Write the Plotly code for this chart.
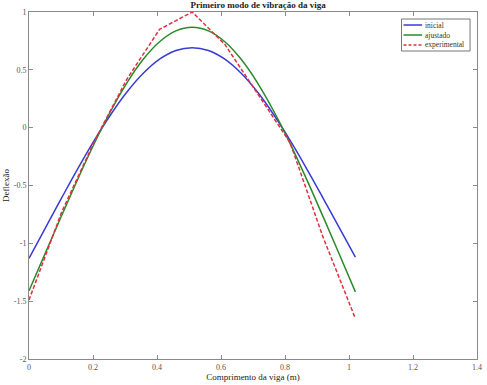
import plotly.graph_objects as go

# ---- data ----
x_model = [0.0, 0.051, 0.102, 0.153, 0.204, 0.255, 0.306, 0.357, 0.408, 0.459, 0.51,
           0.561, 0.612, 0.663, 0.714, 0.765, 0.816, 0.867, 0.918, 0.969, 1.02]
y_inicial = [-1.13, -0.868, -0.607, -0.352, -0.110, 0.112, 0.308, 0.470, 0.592, 0.667, 0.692,
             0.667, 0.592, 0.470, 0.308, 0.112, -0.110, -0.351, -0.604, -0.862, -1.12]
y_ajustado = [-1.41, -1.085, -0.760, -0.441, -0.137, 0.142, 0.388, 0.591, 0.743, 0.837, 0.868,
              0.837, 0.743, 0.591, 0.388, 0.142, -0.138, -0.443, -0.763, -1.090, -1.42]

x_exp = [0.0, 0.102, 0.204, 0.306, 0.408, 0.51, 0.612, 0.714, 0.816, 0.918, 1.02]
y_exp = [-1.49, -0.73, -0.12, 0.42, 0.85, 1.0, 0.72, 0.30, -0.13, -0.94, -1.65]

series_names = ["inicial", "ajustado", "experimental"]
series_colors = ["#3a3ad8", "#2a8a2a", "#e03040"]
series_dash = ["solid", "solid", "4px,2px"]

x_ticks = [0, 0.2, 0.4, 0.6, 0.8, 1.0, 1.2, 1.4]
x_ticklabels = ["0", "0.2", "0.4", "0.6", "0.8", "1", "1.2", "1.4"]
y_ticks = [-2, -1.5, -1, -0.5, 0, 0.5, 1]
y_ticklabels = ["-2", "-1.5", "-1", "-0.5", "0", "0.5", "1"]

title = "Primeiro modo de vibração da viga"
x_title = "Comprimento da viga (m)"
y_title = "Deflexão"

FONT = "Liberation Serif"

fig = go.Figure()
xs = [x_model, x_model, x_exp]
ys = [y_inicial, y_ajustado, y_exp]
shapes_kind = ["spline", "spline", "linear"]
for name, col, dash, xv, yv, sh in zip(series_names, series_colors, series_dash, xs, ys, shapes_kind):
    fig.add_trace(go.Scatter(x=xv, y=yv, mode="lines", name=name,
                             line=dict(color=col, width=1.5, dash=dash, shape=sh)))

axis_common = dict(showline=True, mirror="ticks", linecolor="#8a8a8a", linewidth=1,
                   ticks="inside", ticklen=4, tickcolor="#8a8a8a", showgrid=False,
                   zeroline=False, tickfont=dict(family=FONT, size=8, color="#555"))

fig.update_xaxes(range=[0, 1.4], tickvals=x_ticks, ticktext=x_ticklabels,
                 title=dict(text=x_title, font=dict(family=FONT, size=9, color="#222"), standoff=2),
                 **axis_common)
fig.update_yaxes(range=[-2, 1], tickvals=y_ticks, ticktext=y_ticklabels,
                 title=dict(text=y_title, font=dict(family=FONT, size=9, color="#222"), standoff=2),
                 **axis_common)

# compact MATLAB-style legend drawn in paper coordinates
box = dict(x0=0.8315, x1=0.9845, y0=0.8876, y1=0.9798)
row_y = [0.9625, 0.9337, 0.9049]
line_x0, line_x1, text_x = 0.8359, 0.8775, 0.8800
shapes = [dict(type="rect", xref="paper", yref="paper", fillcolor="white",
               line=dict(color="#777", width=1), **box)]
annotations = []
for name, col, dash, ry in zip(series_names, series_colors, series_dash, row_y):
    shapes.append(dict(type="line", xref="paper", yref="paper", x0=line_x0, x1=line_x1,
                       y0=ry, y1=ry, line=dict(color=col, width=1.5,
                                               dash="3px,2px" if dash != "solid" else "solid")))
    annotations.append(dict(xref="paper", yref="paper", x=text_x, y=ry, text=name,
                            showarrow=False, xanchor="left", yanchor="middle",
                            font=dict(family=FONT, size=7.5, color="#333")))

fig.update_layout(
    width=487, height=385,
    margin=dict(l=25, r=5, t=12, b=26),
    paper_bgcolor="white", plot_bgcolor="white",
    title=dict(text="<b>" + title + "</b>", font=dict(family=FONT, size=9, color="#222"),
               x=0.53, xanchor="center", y=0.995, yanchor="top"),
    showlegend=False,
    shapes=shapes,
    annotations=annotations,
)

fig.write_html("out.html")
